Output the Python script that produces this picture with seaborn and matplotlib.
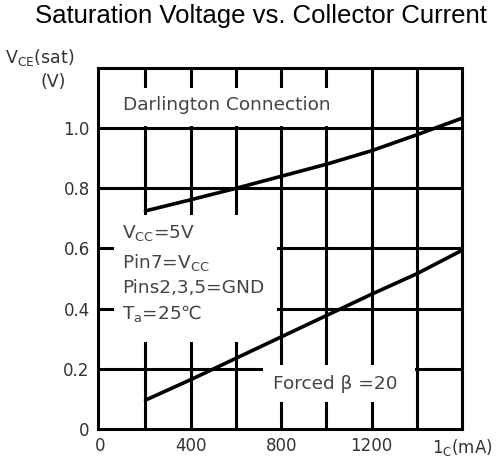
import numpy as np
import pandas as pd
import seaborn as sns
import matplotlib.pyplot as plt
from matplotlib.patches import Rectangle

# collector current (mA) and VCE(sat) (V)
ic_ma = [200, 400, 600, 800, 1000, 1200, 1400, 1600]
vce_darlington = [0.725, 0.762, 0.800, 0.840, 0.880, 0.925, 0.978, 1.033]
vce_forced = [0.096, 0.164, 0.235, 0.306, 0.377, 0.448, 0.516, 0.594]

x_ticks = [0, 400, 800, 1200, 1600]
x_labels = ["0", "400", "800", "1200", "1$_{\\mathregular{C}}$(mA)"]
y_ticks = [0, 0.2, 0.4, 0.6, 0.8, 1.0]
y_labels = ["0", "0.2", "0.4", "0.6", "0.8", "1.0"]
x_grid = [200, 400, 600, 800, 1000, 1200, 1400]
y_grid = [0.2, 0.4, 0.6, 0.8, 1.0]

df = pd.DataFrame({
    "ic": ic_ma * 2,
    "vce": vce_darlington + vce_forced,
    "curve": ["darlington"] * len(ic_ma) + ["forced"] * len(ic_ma),
})

sns.set_theme(style="white")
plt.rcParams['font.family'] = ['DejaVu Sans']
plt.rcParams['mathtext.fontset'] = 'dejavusans'

fig = plt.figure(figsize=(4.97, 4.63), dpi=100)
ax = fig.add_axes([98 / 497, 1 - 429 / 463, 364 / 497, 361 / 463])

lw = 2.2
for y in y_grid:
    ax.axhline(y, color="black", lw=lw, zorder=1)
for x in x_grid:
    ax.axvline(x, color="black", lw=lw, zorder=1)

# white panels behind the annotations (they cut the grid like the original)
for (x0, x1, y0, y1) in [(20, 1185, 1.008, 1.135), (60, 782, 0.29, 0.712), (722, 1393, 0.09, 0.213)]:
    ax.add_patch(Rectangle((x0, y0), x1 - x0, y1 - y0, facecolor="white", edgecolor="none", zorder=2))

sns.lineplot(data=df, x="ic", y="vce", hue="curve", palette=["black", "black"],
             lw=2.6, legend=False, ax=ax, zorder=3)

ax.set_xlim(-10, 1600)
ax.set_ylim(0, 1.2)
ax.set_xticks(x_ticks)
ax.set_xticklabels(x_labels)
ax.set_yticks(y_ticks)
ax.set_yticklabels(y_labels)
ax.tick_params(length=0, labelsize=12, labelcolor="#333333", pad=6)
ax.set_xlabel("")
ax.set_ylabel("")
for s in ax.spines.values():
    s.set_visible(True)
    s.set_color("black")
    s.set_linewidth(lw)

tc = "#444444"
fs = 13.3
ax.text(100, 1.077, "Darlington Connection", fontsize=fs, color=tc, va="center", zorder=4)
cond = ["V$_{\\mathregular{CC}}$=5V", "Pin7=V$_{\\mathregular{CC}}$", "Pins2,3,5=GND", "T$_{\\mathregular{a}}$=25℃"]
for txt, yy in zip(cond, [0.65, 0.553, 0.47, 0.385]):
    ax.text(98, yy, txt, fontsize=fs, color=tc, va="center", zorder=4)
ax.text(762, 0.15, "Forced β =20", fontsize=fs, color=tc, va="center", zorder=4)

fig.text(261 / 497, 1 - 16 / 463, "Saturation Voltage vs. Collector Current",
         fontsize=18.5, color="black", ha="center", va="center", family="Liberation Sans")
fig.text(5 / 497, 1 - 57 / 463, "V$_{\\mathregular{CE}}$(sat)", fontsize=12.5, color="#333333", va="center")
fig.text(40 / 497, 1 - 82 / 463, "(V)", fontsize=12.5, color="#333333", va="center")

fig.savefig("out.png", dpi=100)
